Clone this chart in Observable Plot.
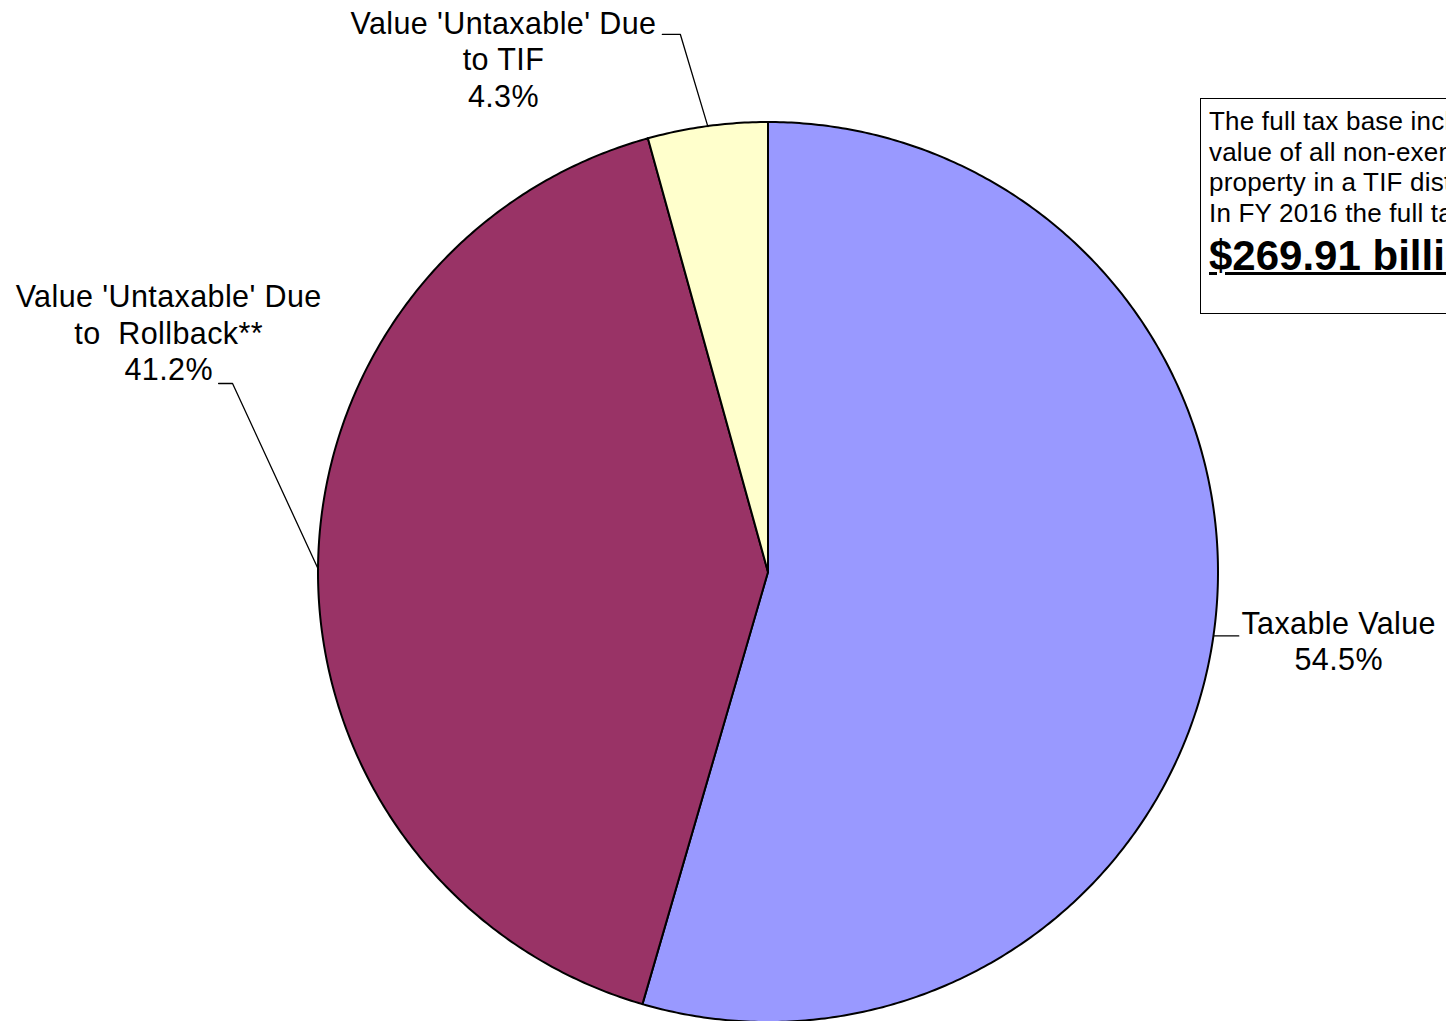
<!DOCTYPE html>
<html>
<head>
<meta charset="utf-8">
<script src="https://cdn.jsdelivr.net/npm/d3@7"></script>
<script src="https://cdn.jsdelivr.net/npm/@observablehq/plot@0.6"></script>
<style>
  html, body { margin: 0; padding: 0; background: #fff; overflow: hidden; }
  #wrap { position: relative; width: 1446px; height: 1021px; overflow: hidden; font-family: "Liberation Sans", Arial, sans-serif; }
  #note { position: absolute; left: 1200px; top: 98px; width: 460px; height: 216px; border: 1.5px solid #000; box-sizing: border-box; padding: 7px 0 0 8px; color: #000; white-space: nowrap; }
  #note .small { font-size: 26px; line-height: 30.5px; letter-spacing: 0.2px; }
  #note .big { font-size: 42px; font-weight: bold; text-decoration: underline; text-decoration-thickness: 3px; line-height: 46px; margin-top: 5px; }
  svg text { letter-spacing: 0.4px; }
</style>
</head>
<body>
<div id="wrap">
  <div id="chart"></div>
  <div id="note">
    <div class="small">The full tax base includes the<br>value of all non-exempt property, including<br>property in a TIF district.<br>In FY 2016 the full tax base was:</div>
    <div class="big">$269.91 billion</div>
  </div>
</div>
<script>
// ---- data ----
const categories = ["Taxable Value", "Value 'Untaxable' Due\nto  Rollback**", "Value 'Untaxable' Due\nto TIF"];
const shares = [54.5, 41.2, 4.3];
const colors = ["#9999FF", "#993366", "#FFFFCC"];

// ---- layout (pie units: radius = 1, centre = 0,0) ----
const W = 1446, H = 1021, R = 450, CX = 768, CY = 572;
// leader-line elbows / ends and label centres per slice
const labelLayout = [
  {elbow: null,            end: [1.045, null],    label: [1.267, -0.151]},
  {elbow: [-1.191, 0.420], end: [-1.222, 0.420],  label: [-1.333, 0.534]},
  {elbow: [-0.196, 1.196], end: [-0.236, 1.196],  label: [-0.589, 1.142]}
];

// ---- build slices ----
const total = d3.sum(shares);
let acc = 0;
const slices = categories.map((name, i) => {
  const a0 = acc / total * 2 * Math.PI;
  acc += shares[i];
  const a1 = acc / total * 2 * Math.PI;
  return {name, value: shares[i], a0, a1, mid: (a0 + a1) / 2};
});
const wedgePts = [];
for (const s of slices) {
  const n = Math.max(8, Math.ceil((s.a1 - s.a0) / (2 * Math.PI) * 720));
  for (let k = 0; k <= n; k++) {
    const a = s.a0 + (s.a1 - s.a0) * k / n;
    wedgePts.push({name: s.name, x1: Math.sin(a), y1: Math.cos(a), x2: 0, y2: 0});
  }
}
const leaders = [];
const labels = [];
slices.forEach((s, i) => {
  const L = labelLayout[i];
  const p0 = [Math.sin(s.mid), Math.cos(s.mid)];
  leaders.push({id: i, x: p0[0], y: p0[1]});
  if (L.elbow) leaders.push({id: i, x: L.elbow[0], y: L.elbow[1]});
  const endY = L.end[1] == null ? p0[1] : L.end[1];
  leaders.push({id: i, x: L.end[0], y: endY});
  labels.push({x: L.label[0], y: L.label[1], text: s.name + "\n" + s.value.toFixed(1) + "%"});
});

const chart = Plot.plot({
  width: W, height: H,
  margin: 0,
  style: {background: "transparent", fontFamily: "'Liberation Sans', Arial, sans-serif", overflow: "visible"},
  x: {domain: [-CX / R, (W - CX) / R], range: [0, W], axis: null},
  y: {domain: [-(H - CY) / R, CY / R], range: [H, 0], axis: null},
  color: {domain: categories, range: colors},
  marks: [
    Plot.area(wedgePts, {x1: "x1", y1: "y1", x2: "x2", y2: "y2", z: "name", fill: "name", stroke: "#000", strokeWidth: 2, strokeLinejoin: "round", curve: "linear"}),
    Plot.line(leaders, {x: "x", y: "y", z: "id", stroke: "#000", strokeWidth: 1.3, curve: "linear"}),
    Plot.text(labels, {x: "x", y: "y", text: "text", fontSize: 30.5, lineHeight: 1.2, textAnchor: "middle", lineAnchor: "middle", fill: "#000"})
  ]
});
document.getElementById("chart").appendChild(chart);
</script>
</body>
</html>
